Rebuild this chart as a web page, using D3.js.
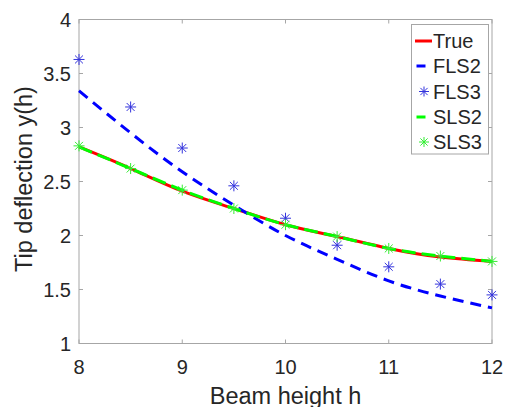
<!DOCTYPE html>
<html>
<head>
<meta charset="utf-8">
<script src="https://d3js.org/d3.v7.min.js"></script>
<style>
  body { margin: 0; background: #fff; }
  text { font-family: "Liberation Sans", Arial, sans-serif; fill: #262626; }
</style>
</head>
<body>
<script>
//chart data
var beamHeights = [8, 8.5, 9, 9.5, 10, 10.5, 11, 11.5, 12];
var trueValues = [2.82, 2.62, 2.41, 2.25, 2.10, 1.99, 1.88, 1.80, 1.76];
var fls2Values = [3.34, 2.95, 2.59, 2.28, 2.00, 1.78, 1.58, 1.44, 1.33];
var fls3Values = [3.63, 3.19, 2.81, 2.46, 2.16, 1.91, 1.71, 1.55, 1.45];
var sls2Values = [2.82, 2.62, 2.42, 2.25, 2.10, 1.99, 1.88, 1.81, 1.76];
var sls3Values = [2.83, 2.62, 2.42, 2.25, 2.10, 1.99, 1.88, 1.81, 1.76];
var xTicks = [8, 9, 10, 11, 12];
var yTicks = [1, 1.5, 2, 2.5, 3, 3.5, 4];
var legendNames = ["True", "FLS2", "FLS3", "SLS2", "SLS3"];

(function(){
    var width = 506, height = 407;
    var axLeft = 79, axRight = 492, axTop = 19.5, axBottom = 343.5;

    var svg = d3.select("body").append("svg")
        .attr("width", width)
        .attr("height", height);

    var x = d3.scaleLinear().domain([8, 12]).range([axLeft, axRight]);
    var y = d3.scaleLinear().domain([1, 4]).range([axBottom, axTop]);

    //axes box
    svg.append("rect")
        .attr("x", axLeft).attr("y", axTop)
        .attr("width", axRight - axLeft).attr("height", axBottom - axTop)
        .attr("fill", "none").attr("stroke", "#a6a6a6").attr("stroke-width", 1);

    //inward ticks on all sides
    var tickLen = 4;
    xTicks.forEach(function(t){
        svg.append("line").attr("x1", x(t)).attr("x2", x(t))
            .attr("y1", axBottom).attr("y2", axBottom - tickLen)
            .attr("stroke", "#a6a6a6");
        svg.append("line").attr("x1", x(t)).attr("x2", x(t))
            .attr("y1", axTop).attr("y2", axTop + tickLen)
            .attr("stroke", "#a6a6a6");
        svg.append("text").attr("x", x(t)).attr("y", 373.5)
            .attr("text-anchor", "middle").attr("font-size", 20)
            .text(t);
    });
    yTicks.forEach(function(t){
        svg.append("line").attr("x1", axLeft).attr("x2", axLeft + tickLen)
            .attr("y1", y(t)).attr("y2", y(t))
            .attr("stroke", "#a6a6a6");
        svg.append("line").attr("x1", axRight).attr("x2", axRight - tickLen)
            .attr("y1", y(t)).attr("y2", y(t))
            .attr("stroke", "#a6a6a6");
        svg.append("text").attr("x", 71).attr("y", y(t) + 7.3)
            .attr("text-anchor", "end").attr("font-size", 20)
            .text(t);
    });

    //axis labels
    svg.append("text")
        .attr("x", (axLeft + axRight) / 2).attr("y", 403.5)
        .attr("text-anchor", "middle").attr("font-size", 23.5)
        .text("Beam height h");
    svg.append("text")
        .attr("transform", "translate(32,179) rotate(-90)")
        .attr("text-anchor", "middle").attr("font-size", 23.5)
        .text("Tip deflection y(h)");

    var line = d3.line()
        .x(function(d, i){ return x(beamHeights[i]); })
        .y(function(d){ return y(d); })
        .curve(d3.curveNatural);

    //asterisk marker
    function star(g, cx, cy, r, color){
        var s = g.append("g").attr("transform", "translate(" + cx + "," + cy + ")")
            .attr("stroke", color).attr("stroke-width", 1);
        s.append("line").attr("x1", -r).attr("x2", r).attr("y1", 0).attr("y2", 0);
        s.append("line").attr("x1", 0).attr("x2", 0).attr("y1", -r).attr("y2", r);
        var k = r * 0.72;
        s.append("line").attr("x1", -k).attr("x2", k).attr("y1", -k).attr("y2", k);
        s.append("line").attr("x1", -k).attr("x2", k).attr("y1", k).attr("y2", -k);
    }

    var plot = svg.append("g");

    //True
    plot.append("path").datum(trueValues).attr("d", line)
        .attr("fill", "none").attr("stroke", "#ff0000").attr("stroke-width", 3);
    //FLS2
    plot.append("path").datum(fls2Values).attr("d", line)
        .attr("fill", "none").attr("stroke", "#0000ff").attr("stroke-width", 3)
        .attr("stroke-dasharray", "11,7");
    //FLS3
    fls3Values.forEach(function(v, i){
        star(plot, x(beamHeights[i]), y(v), 5.5, "#3333dd");
    });
    //SLS2
    plot.append("path").datum(sls2Values).attr("d", line)
        .attr("fill", "none").attr("stroke", "#00ff00").attr("stroke-width", 3)
        .attr("stroke-dasharray", "14,6");
    //SLS3
    sls3Values.forEach(function(v, i){
        star(plot, x(beamHeights[i]), y(v), 5.5, "#33ee33");
    });

    //legend
    var lg = svg.append("g");
    lg.append("rect").attr("x", 411.5).attr("y", 24.5)
        .attr("width", 77).attr("height", 129.5)
        .attr("fill", "#fff").attr("stroke", "#a6a6a6");
    var rowY = [41, 66, 91.5, 117, 142];
    legendNames.forEach(function(name, i){
        var cy = rowY[i];
        if (name == "True"){
            lg.append("line").attr("x1", 415).attr("x2", 432).attr("y1", cy).attr("y2", cy)
                .attr("stroke", "#ff0000").attr("stroke-width", 3);
        } else if (name == "FLS2" || name == "SLS2"){
            lg.append("line").attr("x1", 416.5).attr("x2", 425.5).attr("y1", cy).attr("y2", cy)
                .attr("stroke", name == "FLS2" ? "#0000ff" : "#00ff00").attr("stroke-width", 3);
        } else {
            star(lg, 424, cy, 5, name == "FLS3" ? "#3333dd" : "#33ee33");
        }
        lg.append("text").attr("x", 433).attr("y", cy + 7.2)
            .attr("font-size", 20).text(name);
    });
})();
</script>
</body>
</html>
